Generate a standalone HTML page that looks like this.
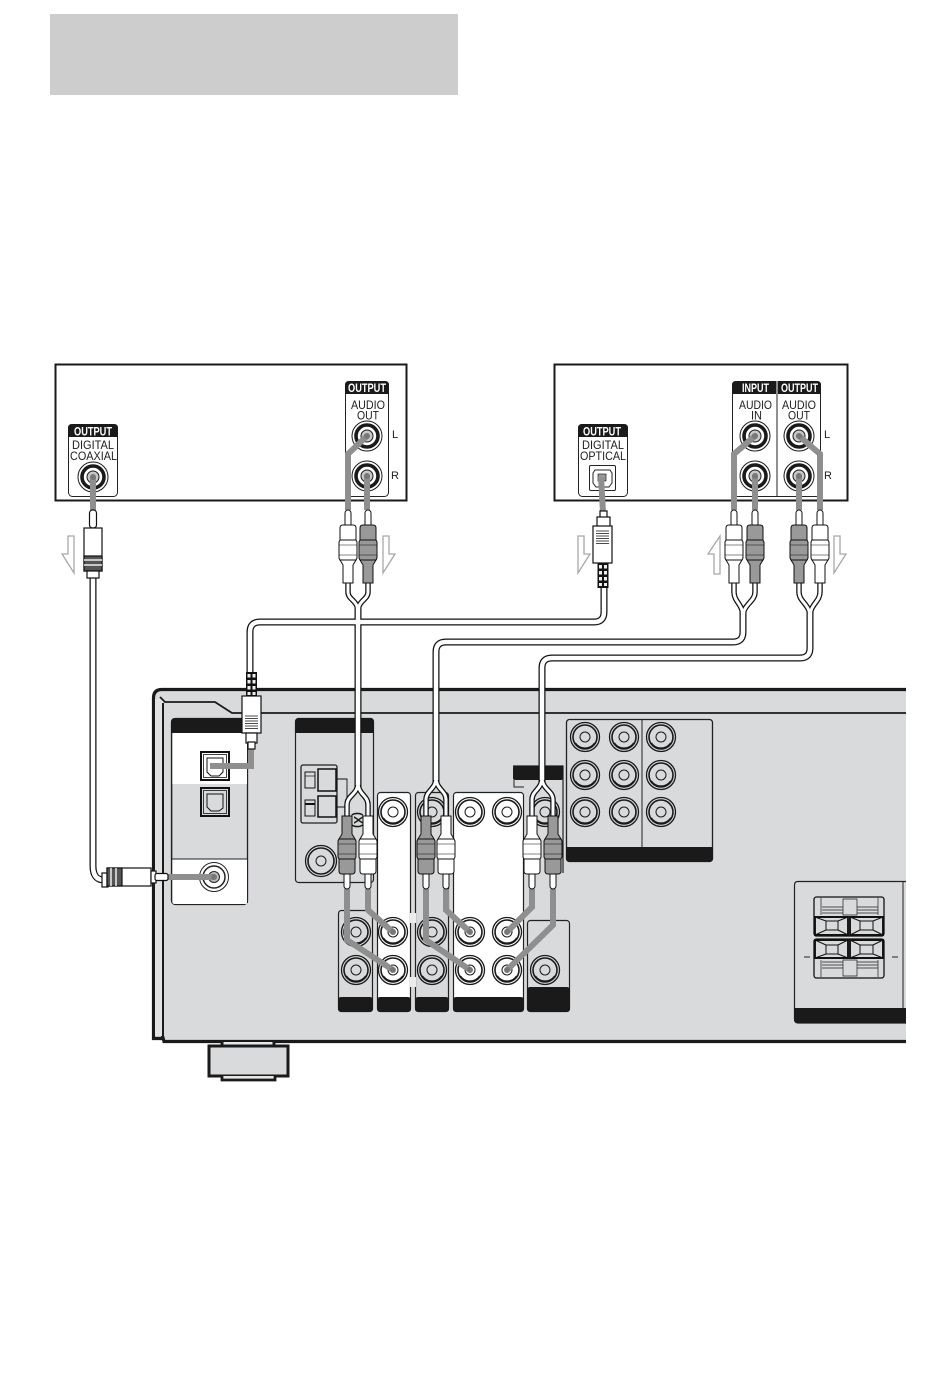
<!DOCTYPE html>
<html><head><meta charset="utf-8"><style>
html,body{margin:0;padding:0;background:#fff}
svg{display:block}
text{font-family:"Liberation Sans",sans-serif;fill:#1c1c1c;font-size:12px}
.h{font-weight:bold;fill:#fff;font-size:11.5px}
.s{font-size:11px}
</style></head><body>
<svg width="950" height="1381" viewBox="0 0 950 1381" xmlns="http://www.w3.org/2000/svg">
<defs>
<g id="rj"><circle r="14.5" fill="none" stroke="#1a1a1a" stroke-width="1.3"/><circle r="12" fill="none" stroke="#1a1a1a" stroke-width="1.6"/><path d="M-10 6A12 12 0 0 0 10 6" fill="none" stroke="#1a1a1a" stroke-width="2"/><circle r="5" fill="none" stroke="#1a1a1a" stroke-width="1"/></g>
<g id="dj"><circle r="15" fill="#fff" stroke="#1a1a1a" stroke-width="1"/><circle r="11" fill="#fff" stroke="#1a1a1a" stroke-width="3.6"/><circle r="6" fill="#c8c8c8" stroke="#1a1a1a" stroke-width="1"/></g>
<g id="plug" stroke="#111" stroke-width="1">
<rect x="-3" y="0" width="6" height="17" rx="3" fill="#fff"/>
<path d="M-5 73V55L-8 50H8L5 55V73Z"/>
<path d="M-8 31V18Q-8 15 -5 15H5Q8 15 8 18V31Z"/>
<path d="M-9 32L-8 30H8L9 32V48L8 50H-8L-9 48Z"/>
<path d="M-9 35H9M-9 45H9" fill="none" stroke-width=".6"/>
</g>
<g id="term">
<rect x="814" y="897" width="70" height="39" rx="2.5" fill="#d9dadc" stroke="#111" stroke-width="1.300"/>
<path d="M821 898V915M878 898V915M843 899H857V915H843ZM822 907H843M822 910H843M822 913H843M857 907H878M857 910H878M857 913H878" fill="none" stroke="#222" stroke-width=".7"/>
<path d="M815 917H848V935H815ZM850 917H883V935H850Z" fill="none" stroke="#111" stroke-width="1.900"/>
<path d="M826 921H838V930H826ZM860 921H873V930H860ZM815 917L826 921M848 917L838 921M815 935L826 930M848 935L838 930M850 917L860 921M883 917L873 921M850 935L860 930M883 935L873 930" fill="none" stroke="#111" stroke-width="1"/>
</g>
<g id="relief">
<rect x="-5.500" y="0" width="11" height="25" fill="#111"/>
<g fill="#eee"><rect x="-4" y="2" width="3" height="3.500"/><rect x="1" y="2" width="3" height="3.500"/><rect x="-4" y="8" width="3" height="3.500"/><rect x="1" y="8" width="3" height="3.500"/><rect x="-4" y="14" width="3" height="3.500"/><rect x="1" y="14" width="3" height="3.500"/><rect x="-4" y="20" width="3" height="3"/><rect x="1" y="20" width="3" height="3"/></g>
</g>
</defs>

<rect x="50" y="14" width="408" height="81" fill="#cdcdcd"/>

<!-- device 1 -->
<rect x="55.500" y="364.500" width="351" height="136" fill="#fff" stroke="#1a1a1a" stroke-width="2"/>
<rect x="68.500" y="424.500" width="49" height="72" rx="4" fill="#fff" stroke="#222"/>
<path d="M68 437V428Q68 424 72 424H114Q118 424 118 428V437Z" fill="#1a1a1a"/>
<text class="h" x="74" y="435.500" textLength="38" lengthAdjust="spacingAndGlyphs">OUTPUT</text>
<text x="72" y="449" textLength="42" lengthAdjust="spacingAndGlyphs">DIGITAL</text>
<text x="70" y="460" textLength="47" lengthAdjust="spacingAndGlyphs">COAXIAL</text>
<use href="#dj" x="93" y="477"/>
<rect x="345.500" y="381.500" width="43" height="115" rx="4" fill="#fff" stroke="#222"/>
<path d="M345 394V385Q345 381 349 381H385Q389 381 389 385V394Z" fill="#1a1a1a"/>
<text class="h" x="348" y="392" textLength="38" lengthAdjust="spacingAndGlyphs">OUTPUT</text>
<text x="351" y="409" textLength="34" lengthAdjust="spacingAndGlyphs">AUDIO</text>
<text x="357" y="419.500" textLength="22" lengthAdjust="spacingAndGlyphs">OUT</text>
<use href="#dj" x="367" y="436"/><use href="#dj" x="367" y="476"/>
<text class="s" x="392" y="438">L</text>
<text class="s" x="391" y="479">R</text>

<!-- device 2 -->
<rect x="554.500" y="364.500" width="293" height="136" fill="#fff" stroke="#1a1a1a" stroke-width="2"/>
<rect x="578.500" y="424.500" width="49" height="72" rx="4" fill="#fff" stroke="#222"/>
<path d="M578 437V428Q578 424 582 424H624Q628 424 628 428V437Z" fill="#1a1a1a"/>
<text class="h" x="583" y="435.500" textLength="38" lengthAdjust="spacingAndGlyphs">OUTPUT</text>
<text x="582" y="449" textLength="42" lengthAdjust="spacingAndGlyphs">DIGITAL</text>
<text x="580" y="460" textLength="46" lengthAdjust="spacingAndGlyphs">OPTICAL</text>
<rect x="589.500" y="465.500" width="26" height="25" rx="1.500" fill="#fff" stroke="#222"/>
<path d="M595 470H610L612 473V483L609 487H596L593 483V473Z" fill="#fff" stroke="#222"/>
<rect x="598" y="474" width="8" height="7" fill="#999" stroke="#222" stroke-width=".7"/>
<rect x="732.500" y="381.500" width="88" height="115" rx="4" fill="#fff" stroke="#222"/>
<path d="M732 394V385Q732 381 736 381H817Q821 381 821 385V394Z" fill="#1a1a1a"/>
<path d="M777 381V496" stroke="#222" fill="none"/><path d="M777 381V394" stroke="#fff" fill="none"/>
<text class="h" x="742" y="392" textLength="27" lengthAdjust="spacingAndGlyphs">INPUT</text>
<text class="h" x="781" y="392" textLength="37" lengthAdjust="spacingAndGlyphs">OUTPUT</text>
<text x="739" y="409" textLength="33" lengthAdjust="spacingAndGlyphs">AUDIO</text>
<text x="751" y="419.500" textLength="11" lengthAdjust="spacingAndGlyphs">IN</text>
<text x="782" y="409" textLength="34" lengthAdjust="spacingAndGlyphs">AUDIO</text>
<text x="788" y="419.500" textLength="22" lengthAdjust="spacingAndGlyphs">OUT</text>
<use href="#dj" x="755" y="436"/><use href="#dj" x="755" y="476"/><use href="#dj" x="799" y="436"/><use href="#dj" x="799" y="476"/>
<text class="s" x="824" y="438">L</text>
<text class="s" x="824" y="479">R</text>

<!-- receiver -->
<path d="M906 689.500H162Q153.500 689.500 153.500 698V1039H164L166 1042H906V1020Z" fill="#d9dadc"/>
<path d="M906 689.500H162Q153.500 689.500 153.500 698V1038.500H162M162 1034L164 1041.500H906" fill="none" stroke="#1a1a1a" stroke-width="3.200"/>
<path d="M155 699H163V1036H155Z" fill="#e2e3e4"/>
<path d="M160 697L165 702H215L232 713H906" fill="none" stroke="#1a1a1a" stroke-width="1.800"/>
<path d="M163 703V1036" stroke="#1a1a1a" stroke-width="2" fill="none"/>

<!-- foot -->
<rect x="223" y="1042" width="51" height="5" fill="#e8e8e8"/>
<rect x="209" y="1046" width="79" height="30" fill="#d9dadc" stroke="#1a1a1a" stroke-width="3"/>
<path d="M222 1042V1046M274 1042V1046" stroke="#1a1a1a" stroke-width="3"/>
<path d="M222 1076V1080H275V1076" fill="#e8e8e8" stroke="#1a1a1a" stroke-width="2.800"/>

<!-- optical/coax panel -->
<rect x="171.500" y="718.500" width="76" height="186" rx="4" fill="#d9dadc" stroke="#222" stroke-width="1.300"/>
<path d="M172 733H248V784H172ZM172 859H248V901Q248 904 245 904H175Q172 904 172 901Z" fill="#fff"/>
<path d="M171 733V722Q171 718 175 718H248V733Z" fill="#1a1a1a"/>
<path d="M171.500 859H247.500" stroke="#222"/>
<rect x="171.500" y="733" width="0.800" height="170" fill="#222"/><rect x="247" y="733" width="1" height="170" fill="#222"/>
<g fill="none" stroke="#111">
<rect x="201" y="752" width="28" height="28" stroke-width="2"/><rect x="203.500" y="754.500" width="23" height="23" stroke-width=".8"/>
<path d="M207 758H223V772L219 776H211L207 772Z" stroke-width="1"/>
<rect x="201" y="788" width="28" height="28" stroke-width="2"/><rect x="203.500" y="790.500" width="23" height="23" stroke-width=".8"/>
<path d="M207 794H223V808L219 811H211L207 807Z" stroke-width="1"/>
</g>
<circle cx="214" cy="877" r="14.500" fill="#fff" stroke="#222"/><circle cx="214" cy="877" r="11" fill="#fff" stroke="#222" stroke-width="1.500"/><circle cx="214" cy="877" r="5.500" fill="#bbb" stroke="#222"/>

<!-- centre panel -->
<rect x="295.500" y="718.500" width="78" height="164" rx="3" fill="#d9dadc" stroke="#222" stroke-width="1.200"/>
<path d="M295 733V722Q295 718 299 718H370Q374 718 374 722V733Z" fill="#1a1a1a"/>
<rect x="301" y="765" width="36" height="58" rx="2" fill="#d9dadc" stroke="#222" stroke-width="1.300"/>
<g fill="none" stroke="#111">
<rect x="305" y="772" width="10" height="16" stroke-width="1"/><path d="M305 776H315" stroke-width=".7"/>
<rect x="305" y="800" width="10" height="16" stroke-width="1"/><path d="M305 804H315" stroke-width="2"/>
<rect x="318" y="769" width="18" height="22" stroke-width="1.500"/>
<rect x="318" y="796" width="18" height="21" stroke-width="1.500"/>
<path d="M337 779H347V800M337 807H346" stroke-width=".9"/>
</g>
<g transform="translate(321 861)"><circle r="15.500" fill="#d9dadc" stroke="#1a1a1a" stroke-width="1.300"/><circle r="13" fill="none" stroke="#1a1a1a" stroke-width="1.600"/><circle r="5" fill="none" stroke="#1a1a1a"/></g>

<!-- lower jack panels -->
<path d="M513 766H563V873" fill="none" stroke="#222" stroke-width="1.200"/>
<path d="M514 780V787H524" fill="none" stroke="#222" stroke-width="1"/>
<rect x="513" y="766" width="50" height="14" rx="2" fill="#1a1a1a"/>
<use href="#rj" x="545" y="812"/>
<rect x="338.500" y="910.500" width="34" height="101" rx="3" fill="#d9dadc" stroke="#222" stroke-width="1.200"/>
<rect x="377.500" y="792.500" width="33" height="219" rx="3" fill="#fff" stroke="#222" stroke-width="1.200"/>
<rect x="415.500" y="792.500" width="33" height="219" rx="3" fill="#d9dadc" stroke="#222" stroke-width="1.200"/>
<rect x="453.500" y="792.500" width="70" height="219" rx="3" fill="#fff" stroke="#222" stroke-width="1.200"/>
<rect x="527.500" y="920.500" width="42" height="91" rx="3" fill="#d9dadc" stroke="#222" stroke-width="1.200"/>
<rect x="410" y="913" width="6" height="10" fill="#ececec"/><rect x="410" y="977" width="6" height="10" fill="#ececec"/>
<g fill="#1a1a1a">
<rect x="338" y="997" width="35" height="15" rx="3"/>
<rect x="377" y="997" width="34" height="15" rx="3"/>
<rect x="415" y="997" width="34" height="15" rx="3"/>
<rect x="453" y="997" width="71" height="15" rx="3"/>
<rect x="527" y="987" width="43" height="25" rx="3"/>
</g>
<use href="#rj" x="356" y="932"/><use href="#rj" x="356" y="970"/>
<use href="#rj" x="393" y="812"/><use href="#rj" x="393" y="932"/><use href="#rj" x="393" y="970"/>
<use href="#rj" x="432" y="812"/><use href="#rj" x="432" y="932"/><use href="#rj" x="432" y="970"/>
<use href="#rj" x="470" y="812"/><use href="#rj" x="507" y="812"/><use href="#rj" x="470" y="932"/><use href="#rj" x="507" y="932"/><use href="#rj" x="470" y="970"/><use href="#rj" x="507" y="970"/>
<use href="#rj" x="545" y="970"/>

<!-- upper right panel -->
<rect x="566.500" y="719.500" width="146" height="142" rx="3" fill="#d9dadc" stroke="#222" stroke-width="1.300"/>
<path d="M566 847H713V858Q713 862 709 862H570Q566 862 566 858Z" fill="#1a1a1a"/>
<path d="M642 719V847" stroke="#222" fill="none"/>
<use href="#rj" x="585" y="737"/><use href="#rj" x="624" y="737"/><use href="#rj" x="661" y="737"/>
<use href="#rj" x="585" y="775"/><use href="#rj" x="624" y="775"/><use href="#rj" x="661" y="775"/>
<use href="#rj" x="585" y="812"/><use href="#rj" x="624" y="812"/><use href="#rj" x="661" y="812"/>

<!-- speaker panel -->
<path d="M906 881.500H798Q794.500 881.500 794.500 885V1019Q794.500 1023 798 1023H906" fill="#d9dadc" stroke="#222" stroke-width="1.200"/>
<path d="M794 1008H906V1023H798Q794 1023 794 1019Z" fill="#1a1a1a"/>
<path d="M903 881V1008" stroke="#222" fill="none"/>
<use href="#term"/>
<use href="#term" transform="translate(0 1875) scale(1 -1)"/>
<path d="M804 957H810M892 957H898" stroke="#222" stroke-width="1"/>

<!-- grey signal lines -->
<g fill="none" stroke="#8f8f8f" stroke-width="6" stroke-linejoin="miter">
<path d="M93 477L93 510"/>
<path d="M367 436L348 454V510M367 476V510"/>
<path d="M601 477L603 512"/>
<path d="M755 436L734 454V510M755 476V510M799 476V510M799 436L820 454V510"/>
<path d="M168 877H214"/>
<path d="M251 748V766H210"/>
<path d="M347 889V940L393 970M368 889V910L393 932"/>
<path d="M426 889V940L470 970M446 889V910L470 932"/>
<path d="M532 889V907L507 932M553 889V925L507 970"/>
</g>
<g fill="#777"><circle cx="367" cy="436" r="3"/><circle cx="367" cy="476" r="3"/><circle cx="93" cy="477" r="3"/><circle cx="755" cy="436" r="3"/><circle cx="755" cy="476" r="3"/><circle cx="799" cy="436" r="3"/><circle cx="799" cy="476" r="3"/><circle cx="214" cy="877" r="3"/><circle cx="393" cy="932" r="3"/><circle cx="393" cy="970" r="3"/><circle cx="470" cy="932" r="3"/><circle cx="470" cy="970" r="3"/><circle cx="507" cy="932" r="3"/><circle cx="507" cy="970" r="3"/></g>

<!-- (X) mark -->
<text transform="translate(354 820) rotate(90)" style="font-size:12px;font-weight:bold;text-anchor:middle">(X)</text>

<!-- cables -->
<g fill="none" stroke-linejoin="round">
<g stroke="#111" stroke-width="7">
<path d="M93 575V866Q93 880 104 880"/>
<path d="M604 585V612Q604 622 594 622H260Q250 622 250 632V675"/>
<path d="M743 612V632Q743 642 733 642H446Q436 642 436 652V785"/>
<path d="M810 612V648Q810 658 800 658H552Q542 658 542 668V785"/>
<path d="M358 605V790"/>
</g>
<g stroke="#111" stroke-width="5.500">
<path d="M348 583V592C348 600 358 600 358 612M368 583V592C368 600 358 600 358 612"/>
<path d="M734 583V592C734 602 743 604 743 617M755 583V592C755 602 743 604 743 617"/>
<path d="M799 583V592C799 602 810 604 810 617M820 583V592C820 602 810 604 810 617"/>
<path d="M347 817V805C347 795 358 795 358 782M368 817V805C368 795 358 795 358 782"/>
<path d="M426 817V800C426 790 436 790 436 777M446 817V800C446 790 436 790 436 777"/>
<path d="M532 817V800C532 790 542 790 542 777M553 817V800C553 790 542 790 542 777"/>
</g>
<g stroke="#fff" stroke-width="4.500">
<path d="M93 575V866Q93 880 104 880"/>
<path d="M604 585V612Q604 622 594 622H260Q250 622 250 632V675"/>
<path d="M743 612V632Q743 642 733 642H446Q436 642 436 652V780"/>
<path d="M810 612V648Q810 658 800 658H552Q542 658 542 668V780"/>
<path d="M358 605V785"/>
</g>
<g stroke="#fff" stroke-width="3">
<path d="M348 583V592C348 600 358 600 358 612M368 583V592C368 600 358 600 358 612"/>
<path d="M734 583V592C734 602 743 604 743 617M755 583V592C755 602 743 604 743 617"/>
<path d="M799 583V592C799 602 810 604 810 617M820 583V592C820 602 810 604 810 617"/>
<path d="M347 817V805C347 795 358 795 358 782M368 817V805C368 795 358 795 358 782"/>
<path d="M426 817V800C426 790 436 790 436 777M446 817V800C446 790 436 790 436 777"/>
<path d="M532 817V800C532 790 542 790 542 777M553 817V800C553 790 542 790 542 777"/>
</g>
</g>

<!-- RCA plugs -->
<use href="#plug" x="348" y="510" fill="#fff"/>
<use href="#plug" x="368" y="510" fill="#999"/>
<use href="#plug" x="734" y="510" fill="#fff"/>
<use href="#plug" x="755" y="510" fill="#999"/>
<use href="#plug" x="799" y="510" fill="#999"/>
<use href="#plug" x="820" y="510" fill="#fff"/>
<use href="#plug" transform="translate(347 889) scale(1 -1)" fill="#999"/>
<use href="#plug" transform="translate(368 889) scale(1 -1)" fill="#fff"/>
<use href="#plug" transform="translate(426 889) scale(1 -1)" fill="#999"/>
<use href="#plug" transform="translate(446 889) scale(1 -1)" fill="#fff"/>
<use href="#plug" transform="translate(532 889) scale(1 -1)" fill="#fff"/>
<use href="#plug" transform="translate(553 889) scale(1 -1)" fill="#999"/>

<!-- coax plug top -->
<g stroke="#111" stroke-width="1.200">
<rect x="89.500" y="510" width="7" height="18" rx="3" fill="#fff"/>
<rect x="84" y="528" width="18" height="43" fill="#fff"/>
<rect x="84" y="556" width="18" height="15" fill="#555"/>
<path d="M84 560H102M84 565H102" stroke="#eee" stroke-width="1.500"/>
<rect x="87" y="571" width="12" height="7" fill="#fff"/>
</g>
<!-- coax plug side -->
<g stroke="#111" stroke-width="1.200">
<rect x="102" y="873" width="6" height="14" fill="#fff"/>
<rect x="107" y="868" width="44" height="18" fill="#fff"/>
<rect x="107" y="868" width="15" height="18" fill="#555"/>
<path d="M111 868V886M116 868V886" stroke="#eee" stroke-width="1.500"/>
<rect x="151" y="871" width="5" height="12" fill="#fff"/>
<rect x="155" y="873.500" width="13" height="7" rx="2" fill="#fff"/>
</g>

<!-- optical plug top -->
<g stroke="#111" stroke-width="1.200">
<rect x="600" y="511" width="7" height="8" fill="#fff"/>
<rect x="597" y="517" width="13" height="10" fill="#fff"/>
<rect x="593" y="526" width="19" height="37" fill="#fff"/>
<path d="M596 531H609M596 533.500H609M596 536H609M596 538.500H609M596 541H609M596 543.500H609" stroke-width=".8"/>
</g>
<use href="#relief" x="603" y="563"/>
<!-- optical plug receiver -->
<use href="#relief" x="251.500" y="672"/>
<g stroke="#111" stroke-width="1.200">
<rect x="242" y="696" width="19" height="37" fill="#fff"/>
<path d="M245 716H258M245 718.500H258M245 721H258M245 723.500H258M245 726H258M245 728.500H258" stroke-width=".8"/>
<rect x="246" y="733" width="11" height="10" fill="#fff"/>
<rect x="248" y="742" width="7" height="7" fill="#fff"/>
</g>

<!-- direction arrows -->
<g fill="#fff" stroke="#a8a8a8" stroke-width="1.300">
<path d="M68 536H74V573L62 554H68Z"/>
<path d="M383 536H389V554H395L383 573Z"/>
<path d="M578 536H584V554H590L578 573Z"/>
<path d="M720 536V574H714V554H708Z"/>
<path d="M834 536H840V554H846L834 573Z"/>
</g>
</svg>
</body></html>
